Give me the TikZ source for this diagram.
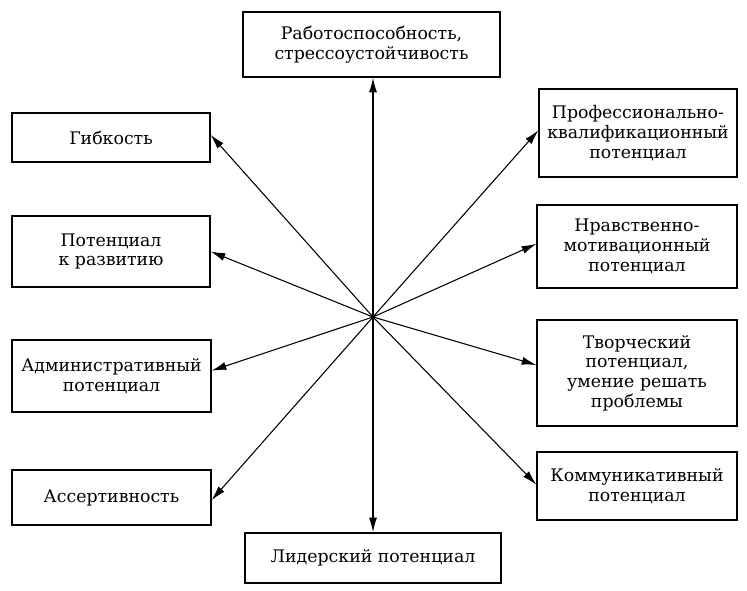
\documentclass[tikz,border=0pt]{standalone}
\usepackage{fontspec}
\setmainfont{DejaVu Serif}
\usetikzlibrary{arrows.meta}

\tikzset{every picture/.style={line width=0.75pt}}
\tikzset{
  qbox/.style={draw, line width=0.9pt, align=center, inner sep=0pt, font=\fontsize{13}{14.8}\selectfont},
  qarr/.style={-{Latex[length=11pt,width=6pt]}, line width=0.8pt}
}

\begin{document}
\begin{tikzpicture}[x=0.75pt,y=0.75pt,yscale=-1,xscale=1]
\useasboundingbox (0,0) rectangle (747,591);

% Center point
\coordinate (c) at (373,317);

% Top and bottom boxes
\node (work) [qbox, minimum width=192.75pt, minimum height=48.75pt] at (371.5,44.5) {Работоспособность,\\стрессоустойчивость};
\node (lead) [qbox, minimum width=192pt, minimum height=37.5pt] at (373,558) {Лидерский потенциал};

% Left boxes
\node (flex) [qbox, minimum width=148.5pt, minimum height=36.75pt] at (111,137.5) {Гибкость};
\node (devel) [qbox, minimum width=148.5pt, minimum height=53.25pt] at (111,251.5) {Потенциал\\к развитию};
\node (admin) [qbox, minimum width=149.25pt, minimum height=54pt] at (111.5,376) {Административный\\потенциал};
\node (assert) [qbox, minimum width=149.25pt, minimum height=41.25pt] at (111.5,497.5) {Ассертивность};

% Right boxes
\node (prof) [qbox, minimum width=148.5pt, minimum height=66pt] at (638,133) {Профессионально-\\квалификационный\\потенциал};
\node (moral) [qbox, minimum width=150pt, minimum height=62.25pt] at (637,246.5) {Нравственно-\\мотивационный\\потенциал};
\node (creat) [qbox, minimum width=150pt, minimum height=79.5pt] at (637,373) {Творческий\\потенциал,\\умение решать\\проблемы};
\node (comm) [qbox, minimum width=150pt, minimum height=51pt] at (637,486) {Коммуникативный\\потенциал};

% Arrows
\draw [qarr, line width=1.1pt] (c) -- (c |- work.south);
\draw [qarr, line width=1.1pt] (c) -- (c |- lead.north);
\draw [qarr] (c) -- ([yshift=-2]flex.east);
\draw [qarr] (c) -- (devel.east);
\draw [qarr] (c) -- ([yshift=-4]admin.east);
\draw [qarr] (c) -- ([yshift=2]assert.east);
\draw [qarr] (c) -- ([yshift=-2]prof.west);
\draw [qarr] (c) -- ([yshift=-2]moral.west);
\draw [qarr] (c) -- ([yshift=-6]creat.west);
\draw [qarr] (c) -- ([yshift=-1]comm.west);

\end{tikzpicture}
\end{document}
